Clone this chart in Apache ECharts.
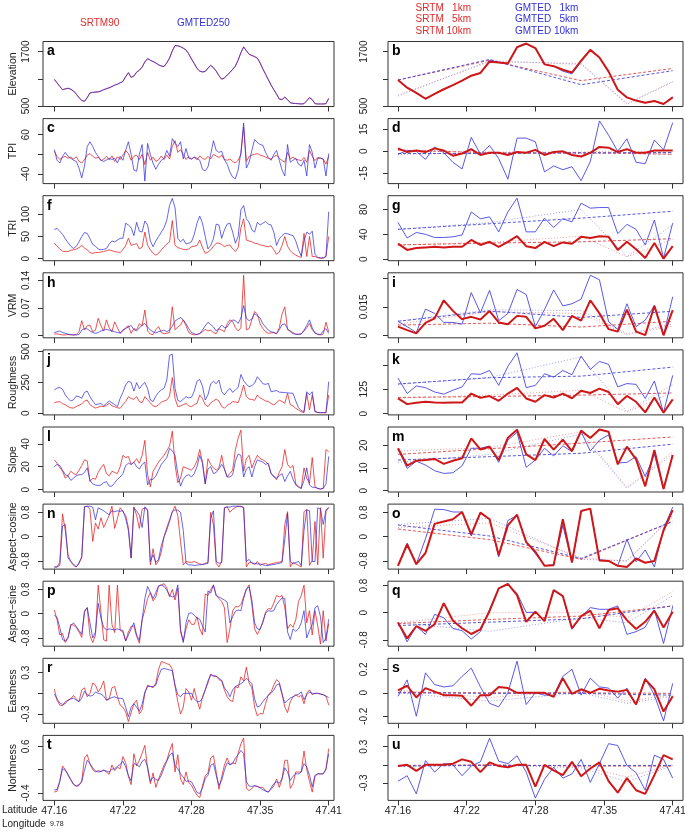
<!DOCTYPE html>
<html><head><meta charset="utf-8">
<script src="https://cdn.jsdelivr.net/npm/echarts@6.0.0/dist/echarts.min.js"></script>
<style>html,body{margin:0;padding:0;background:#fff}#c{width:685px;height:833px}</style>
</head><body><div id="c"></div>
<script>
// ---------- tick labels ----------
const latLabels = ['47.16','47.22','47.28','47.35','47.41'];
const latTicks = [0, 0.25, 0.5, 0.75, 1];
const pos5 = [0, 0.3333, 0.6667, 1];
const pos10 = [0, 0.3333, 0.6667, 0.8333, 1];

// ---------- left column (SRTM90 / GMTED250) ----------
const elevSRTM90 = [1090,1010,930,860,880,895,870,830,760,680,620,600,680,790,800,805,810,830,860,880,900,930,960,980,1010,1040,1150,1230,1130,1160,1250,1290,1360,1480,1550,1510,1480,1450,1410,1380,1370,1450,1560,1720,1840,1830,1810,1780,1740,1650,1540,1440,1330,1270,1250,1260,1340,1400,1350,1270,1170,1090,1120,1180,1240,1310,1380,1520,1680,1810,1720,1640,1620,1590,1560,1450,1320,1200,1080,960,860,760,650,640,700,640,570,560,555,550,545,550,620,690,640,550,545,545,545,550,670];
const elevGMTED250 = [1085,1010,935,860,875,890,870,835,765,690,625,605,690,790,800,810,815,830,860,885,905,930,960,985,1015,1045,1145,1240,1135,1165,1245,1290,1360,1470,1545,1510,1485,1450,1410,1385,1375,1455,1560,1715,1830,1830,1810,1775,1735,1650,1535,1440,1330,1270,1255,1265,1330,1395,1345,1270,1170,1095,1120,1185,1240,1310,1380,1515,1675,1800,1720,1645,1615,1590,1555,1450,1320,1200,1085,965,860,765,655,645,690,640,575,560,555,550,545,552,615,680,640,552,545,545,545,552,665];
const tpiSRTM90 = [18,5,-3,2,5,0,3,-2,4,-8,-12,-3,8,12,5,0,3,-6,-2,5,-4,6,-8,4,-3,8,20,12,-5,5,8,-3,10,-16,15,-5,3,-8,-4,6,-3,8,-2,30,45,15,22,10,-3,5,-2,3,-4,6,0,-3,5,-2,10,6,2,8,-3,-5,-2,-8,-12,-5,10,80,-8,5,8,10,12,8,6,3,0,-2,4,8,0,-6,-10,15,-2,3,-2,-4,-6,2,-10,20,5,-6,2,1,-2,-15,5];
const tpiGMTED250 = [22,-5,-12,5,15,5,0,-5,-8,-25,-50,-20,30,42,30,15,5,-5,-8,-4,0,-3,0,-12,5,-5,20,42,10,-30,-33,10,35,-58,38,10,-13,-28,-15,-5,0,20,5,50,38,30,42,-2,25,0,-2,3,0,-5,-28,-32,-22,10,45,20,15,18,-4,-15,-35,-48,-52,-30,15,90,-25,-10,20,48,40,35,33,15,2,-5,10,20,-5,-30,-45,35,-10,-5,0,-15,-20,-5,-45,35,15,-25,0,0,-2,-45,12];
const triSRTM90 = [35,28,22,17,16,16,19,20,22,25,30,24,20,14,12,14,14,15,16,18,20,18,16,15,14,20,30,46,30,32,34,22,26,60,30,20,12,8,12,20,27,33,38,86,30,25,23,21,20,22,27,28,30,42,25,12,15,20,28,35,35,32,27,30,31,22,16,25,70,90,42,40,38,35,34,31,30,28,27,29,20,10,15,30,50,28,18,12,8,5,3,57,5,50,5,5,2,1,1,5,50];
const triGMTED250 = [66,68,62,55,45,36,28,23,28,38,50,59,57,45,32,28,22,20,21,23,33,40,38,42,46,46,80,76,70,52,82,62,60,85,76,40,27,40,50,60,70,87,120,136,115,46,38,44,33,35,38,55,80,96,80,50,22,30,45,78,76,46,65,78,80,60,35,50,110,120,90,82,65,60,82,76,80,84,78,76,60,30,45,52,57,56,54,52,40,20,6,40,60,55,62,10,3,2,2,5,106];
const vrmSRTM90 = [0.004,0.005,0.003,0.002,0.002,0.003,0.002,0.002,0.003,0.010,0.038,0.015,0.025,0.027,0.010,0.014,0.044,0.025,0.012,0.040,0.020,0.010,0.035,0.020,0.006,0.012,0.020,0.025,0.006,0.018,0.015,0.030,0.025,0.065,0.012,0.004,0.003,0.015,0.023,0.008,0.005,0.006,0.008,0.073,0.015,0.022,0.027,0.040,0.025,0.008,0.004,0.002,0.003,0.005,0.010,0.016,0.012,0.014,0.008,0.005,0.018,0.014,0.010,0.030,0.040,0.036,0.020,0.012,0.020,0.153,0.015,0.018,0.040,0.061,0.055,0.030,0.018,0.010,0.006,0.007,0.008,0.005,0.020,0.055,0.073,0.015,0.012,0.008,0.003,0.004,0.005,0.012,0.020,0.031,0.015,0.008,0.003,0.002,0.004,0.034,0.010];
const vrmGMTED250 = [0.008,0.010,0.012,0.008,0.006,0.004,0.003,0.002,0.002,0.003,0.014,0.018,0.017,0.012,0.008,0.006,0.008,0.012,0.014,0.016,0.014,0.012,0.010,0.008,0.007,0.015,0.018,0.022,0.026,0.015,0.012,0.020,0.026,0.031,0.022,0.014,0.010,0.007,0.010,0.012,0.014,0.010,0.014,0.024,0.037,0.042,0.046,0.040,0.030,0.018,0.008,0.005,0.003,0.006,0.014,0.025,0.034,0.028,0.022,0.012,0.018,0.027,0.020,0.022,0.033,0.040,0.038,0.031,0.045,0.076,0.044,0.038,0.042,0.056,0.050,0.045,0.030,0.022,0.014,0.010,0.008,0.005,0.015,0.028,0.030,0.018,0.010,0.005,0.004,0.003,0.004,0.014,0.026,0.040,0.020,0.006,0.004,0.003,0.012,0.018,0.006];
const roughSRTM90 = [86,92,95,78,70,54,45,42,55,65,76,100,108,70,55,42,50,58,54,65,81,60,54,45,41,70,95,135,120,113,135,95,86,135,110,85,60,54,70,90,100,108,140,290,120,54,60,70,80,60,54,70,81,149,120,70,54,85,100,115,100,55,41,65,76,95,92,86,150,230,135,115,113,105,149,125,113,100,95,80,68,85,108,95,81,162,70,60,40,27,12,5,162,27,149,14,6,5,5,5,149];
const roughGMTED250 = [189,205,210,195,150,120,100,110,140,135,122,170,180,135,100,70,75,80,60,80,100,85,70,55,122,170,230,260,250,180,249,200,230,250,200,108,95,140,170,190,203,270,470,480,200,105,95,115,135,125,130,180,260,275,220,108,150,240,260,240,270,176,150,180,203,170,190,210,315,265,235,216,225,245,297,270,240,235,243,175,180,185,172,170,168,166,164,162,100,45,22,14,175,149,175,14,8,5,5,5,257];
const slopeSRTM90 = [26,23,19,16,10,12,16,14,13,17,21,26,25,7,10,9,15,19,22,14,12,16,15,14,20,30,28,29,22,24,27,23,30,43,13,2.5,16,20,24,27,30,34,38,51,22,6,10,20,19,18,17,20,25,35,24,5,27,22,19,17,19,30,18,11,14,17,35,45,52,16,27,30,19,25,30,27,26,24.5,22,14,12,8.5,15,20,35,22,19,21,5,3,1,19,10,5.5,28,2.5,1,0.5,1,35,33];
const slopeGMTED250 = [20,22,21,17,13,12,8,10,12,13,13,15,19,8,5,4,3.5,4,6,7,3,3,6,9,11,14,21,23,22,24,20,18,22,24,4,9,9,12,17,22,25,28,36,34,30,14,3,9,12,13,11,14,20,30,23,5,18,20,14,15,18,22,18,11,11,13,25,31,30,11,18,20,11,20,26,25,24,22,23,14,11,10,12,14,7,12,16,9,4,2,1,8,19,4,2,2,1,0.5,1,5,29];
const acosSRTM90 = [-1,-1,-0.85,0.75,0.2,-0.6,-0.82,-0.95,-1,-0.9,-0.65,0.98,1,0.9,-0.16,0.45,0.25,0.62,0.3,0.5,0.7,1,0.27,0.6,0.95,0.82,0.7,0.3,-0.71,0.98,0.7,0.27,0.9,0.95,0.85,-0.93,-0.4,-0.93,-0.8,-0.5,0,0.3,0.55,0.82,1,0.7,-0.16,-0.93,-0.82,-0.84,-0.85,-0.82,-0.86,-0.9,-0.92,-0.88,-0.85,0.8,0.38,-0.88,-1,-0.82,0.95,0.98,0.8,0.9,0.96,1,0.98,0.97,-1,-0.85,-0.85,-0.93,-0.82,-0.95,-0.9,-0.88,-0.93,-0.9,-0.88,-0.85,-0.84,-0.82,0.4,0.82,-1,-0.85,-0.9,-0.95,-1,0.82,0.9,-0.95,-0.78,0.5,-0.93,0.95,-0.71,0.82,0.96];
const acosGMTED250 = [-1,-1,-0.95,0.35,0.4,-0.7,-0.82,-0.9,-1,-0.85,-0.7,0.98,1,1,0.97,0.55,0.95,0.9,0.85,0.78,0.72,0.85,0.82,0.85,0.83,0.86,0.6,0.2,-0.7,0.95,0.85,0.7,0.3,0.98,0.9,-0.82,-0.6,-0.85,-0.75,-0.3,0,0.22,0.5,0.82,0.88,0.87,0.8,0.2,-0.88,-0.93,-0.93,-0.95,-0.94,-0.93,-0.92,-0.9,-0.88,0.6,0.85,-0.82,-0.88,-0.85,0.95,0.98,0.97,1,1,1,1,0.95,-0.82,-0.75,-0.88,-0.88,-0.9,-0.9,-0.93,-0.95,-0.95,-0.93,-0.92,-0.9,-0.88,-0.85,-0.1,0.77,-0.82,-0.9,-0.85,-0.82,-0.95,0.2,0.88,0.85,-0.82,-0.82,0.95,0.9,0.4,0.88,0.96];
const asinSRTM90 = [0.12,-0.2,-0.7,-0.65,-0.95,-0.8,-0.35,-0.38,-0.45,-0.6,-0.78,0.1,0.2,-0.72,-0.95,-0.7,0.94,0.05,-0.86,-0.9,0.94,-0.35,-0.62,0.94,-0.55,-0.6,-0.9,-0.6,-0.42,-0.4,-0.75,-0.97,-0.2,0.12,0.5,0.7,0.42,0.55,0.9,0.95,0.99,0.85,0.55,0.8,0.45,0.85,-0.6,-0.9,-0.5,-0.2,-0.35,-0.35,-0.1,-0.5,-0.7,0.65,0.6,0.8,0.94,0.6,0.5,0.4,0.2,-0.95,-0.5,0.1,0.23,0.23,0.3,0.55,0.8,0.95,0.3,-0.5,-0.68,-0.5,-0.3,0.05,0.17,0.15,0.35,0.6,0.55,0.6,0.2,-0.5,-0.35,-0.45,-0.2,0.4,0.6,0.94,-0.3,0.1,-0.7,0.1,-0.4,-1,0.1,-0.9,-0.32];
const asinGMTED250 = [-0.05,-0.12,-0.45,-0.85,-0.9,-0.78,-0.4,-0.3,-0.42,-0.55,-0.68,0.05,0.2,-0.3,-0.8,-0.6,0.34,-0.15,-0.45,-0.53,-0.5,-0.52,-0.53,-0.5,-0.53,-0.55,-0.9,-0.7,-0.5,-0.3,-0.7,-0.88,-0.2,0.5,0.9,0.7,0.5,0.7,0.92,0.94,0.9,0.77,0.6,0.55,0.58,0.95,-0.5,-0.95,-0.3,0.01,0.03,-0.05,-0.15,-0.18,-0.4,-0.6,0.75,0.68,0.95,0.6,0.55,0.5,0.45,0.38,-0.3,-0.1,0.08,0.12,0.1,0.5,0.82,0.88,0.45,-0.3,-0.5,-0.52,-0.25,0.02,0.1,0.08,0.1,0.3,0.42,0.52,0.5,-0.6,-0.85,-0.5,-0.58,-0.5,-0.3,0.1,-0.8,-0.55,-0.35,0.2,0.26,-0.1,-0.95,-0.8,-0.18];
const eastSRTM90 = [0.06,-0.1,-0.17,-0.18,-0.12,-0.1,-0.08,-0.03,-0.08,-0.12,0.05,0.08,-0.05,0,0.15,0.12,0.02,0.08,0.18,-0.1,-0.08,0.08,0.1,-0.05,-0.17,-0.2,-0.27,-0.41,-0.28,-0.15,-0.1,-0.3,-0.24,0,0.12,0.1,0.08,0.15,0.35,0.46,0.45,0.43,0.42,0.35,0.1,-0.12,-0.3,-0.2,0.07,0.02,-0.1,0.07,-0.1,-0.23,-0.05,0.05,0.15,0.28,0.24,0.25,0.2,0.18,0.05,-0.05,-0.1,-0.12,0.1,0.08,0.24,0.18,0.38,0.15,0.08,-0.2,-0.33,-0.29,-0.3,-0.15,-0.02,0.02,0.12,0.2,0.16,0,-0.2,-0.28,-0.12,-0.05,-0.02,-0.05,-0.03,-0.15,0,0.05,-0.02,0,0,-0.01,-0.02,-0.04,-0.17];
const eastGMTED250 = [-0.01,-0.08,-0.14,-0.16,-0.15,-0.1,-0.08,-0.07,-0.1,-0.12,-0.07,0.03,-0.02,-0.04,-0.03,0.02,0,-0.01,-0.04,-0.1,-0.08,-0.06,-0.05,-0.07,-0.07,-0.08,-0.2,-0.34,-0.2,-0.15,-0.2,-0.26,-0.16,0.02,0.1,0.1,0.1,0.12,0.25,0.35,0.36,0.35,0.34,0.33,0.12,-0.02,-0.05,0,0,0,0,-0.08,-0.12,-0.12,-0.07,0.05,0.18,0.27,0.26,0.25,0.22,0.19,0.08,0.03,-0.05,0.05,0.1,0.12,0.14,0.17,0.22,0.18,0.14,-0.08,-0.2,-0.18,-0.12,-0.07,-0.03,0,0.05,0.12,0.14,-0.02,-0.14,-0.1,-0.07,-0.05,-0.03,-0.01,0.02,-0.09,-0.02,0.02,0,0,0,-0.01,-0.02,-0.04,-0.06];
const northSRTM90 = [-0.38,-0.36,-0.15,0.18,0.1,-0.02,-0.12,-0.22,-0.26,-0.24,-0.14,0.35,0.42,0.22,0.1,0.05,0.08,0.06,0.09,0.05,0,0.2,0.08,0.15,0.12,0.38,0.25,-0.05,-0.22,0.44,0.18,0.3,0.45,0.62,0.12,-0.2,0.03,-0.28,-0.1,0.05,0.2,0.3,0.5,0.66,0.05,0.42,-0.1,-0.22,0.05,-0.18,-0.23,-0.35,-0.45,-0.5,-0.25,-0.03,0.03,0.35,0.4,0.05,-0.32,-0.05,0.2,0.35,0.2,0.25,0.22,0.45,0.65,0.78,-0.3,-0.35,-0.3,-0.25,-0.26,-0.28,-0.28,-0.35,-0.38,-0.32,-0.25,-0.1,-0.28,-0.1,0.3,0.3,-0.3,-0.2,0.05,0.05,0.05,0.5,0.1,-0.15,-0.38,-0.05,0.01,0.01,0.01,0.1,0.55];
const northGMTED250 = [-0.34,-0.32,-0.15,0.12,0.09,0,-0.11,-0.21,-0.25,-0.22,-0.16,0.09,0.3,0.23,0.14,0.07,0.05,0.06,0.09,0.07,0.05,0.11,0.12,0.17,0.21,0.28,0.16,-0.02,-0.14,0.23,0.21,0.16,0.28,0.32,0.16,-0.15,-0.06,-0.11,-0.13,-0.02,0.14,0.28,0.41,0.46,0.19,0.12,0.01,-0.06,-0.15,-0.14,-0.16,-0.27,-0.39,-0.41,-0.29,-0.09,-0.02,0.19,0.23,-0.02,-0.24,-0.13,0.09,0.25,0.21,0.23,0.35,0.42,0.51,0.44,-0.16,-0.25,-0.26,-0.24,-0.26,-0.29,-0.33,-0.36,-0.38,-0.29,-0.2,-0.16,-0.19,-0.09,0.14,0.05,-0.13,-0.04,0.01,0.01,0.05,0.23,0.16,-0.02,-0.27,-0.02,0.01,0.01,0.01,0.12,0.44];

// ---------- right column (1 km / 5 km / 10 km) ----------
const elevSRTM1 = [1074,905,790,660,770,870,960,1060,1170,1230,1480,1460,1440,1800,1880,1780,1420,1380,1300,1240,1500,1740,1570,1260,860,690,620,570,610,545,690];
const elevGMTED1 = [1074,905,790,660,770,870,960,1060,1170,1230,1510,1460,1440,1790,1870,1780,1420,1380,1270,1210,1480,1740,1570,1260,860,690,620,570,610,545,700];
const elevSRTM5 = [1074,1510,1060,1330];
const elevGMTED5 = [1074,1530,970,1280];
const elevSRTM10 = [740,1480,1440,560,1040];
const elevGMTED10 = [720,1500,1420,540,1030];
const tpiSRTM1 = [2,-0.5,0.5,-0.5,2,0.5,-3,-1.5,1.5,-2.5,-1,-1,-2.5,-0.5,-1,1,-2.5,-0.5,0,-2.5,-3.5,-1,3,2.5,-0.5,1.5,-1,-1,0.5,0.5,0.5];
const tpiGMTED1 = [-2,0.5,0,-5.5,3,-1,-7.5,-12,9.5,-2,4,-5,-19,9,9,6.5,-14,-10,-12.5,-10.5,-20,-7,20.7,11,0,8.5,-7.5,-8.4,7.7,1,19.5];
const tpiSRTM5 = [0.8,-1,-1,-2];
const tpiGMTED5 = [-1.5,-1.5,-1,-0.8];
const tpiSRTM10 = [1,-0.5,-0.5,0.5,-1];
const tpiGMTED10 = [-2,-1,-1.5,-1,-2];
const triSRTM1 = [25,15,18,19,20,19,20,20,31,23,28,20,28,37,21,18,28,21,27,25,36,34,37,36,15,28,16,2,26,1,21];
const triGMTED1 = [59,34,43,40,35,35,36,39,76,65,68,44,76,98,44,44,66,51,65,60,90,82,83,83,41,56,48,23,63,2,58];
const triSRTM5 = [23,26,28,33];
const triGMTED5 = [48,57,66,77];
const triSRTM10 = [23,27,37,4,32];
const triGMTED10 = [48,59,80,4,55];
const vrmSRTM1 = [0.0047,0.0029,0.0012,0.0067,0.009,0.0184,0.0129,0.0086,0.0098,0.0084,0.0128,0.0069,0.0059,0.0103,0.0098,0.0038,0.0052,0.0088,0.0029,0.0103,0.0078,0.0184,0.0116,0.0034,0.0021,0.0136,0.0021,0.0003,0.0155,0.0002,0.0133];
const vrmGMTED1 = [0.0074,0.0047,0.0016,0.0138,0.0116,0.0069,0.0069,0.006,0.0224,0.0119,0.0236,0.0078,0.0116,0.024,0.0214,0.0047,0.0136,0.0238,0.0155,0.0166,0.019,0.0314,0.0291,0.0072,0.0033,0.0166,0.0047,0.0081,0.0157,0.0003,0.0202];
const vrmSRTM5 = [0.0055,0.0065,0.0045,0.0075];
const vrmGMTED5 = [0.0075,0.0128,0.0095,0.0127];
const vrmSRTM10 = [0.006,0.0125,0.0115,0.0005,0.005];
const vrmGMTED10 = [0.0075,0.0135,0.013,0.001,0.006];
const roughSRTM1 = [78,49,56,61,57,56,57,57,103,81,90,66,103,132,78,61,95,83,103,79,117,106,128,111,49,91,61,7,83,5,73];
const roughGMTED1 = [182,103,142,133,111,100,120,137,204,201,221,145,242,311,133,145,204,187,221,199,294,226,267,252,137,154,150,78,167,5,196];
const roughSRTM5 = [83,88,95,106];
const roughGMTED5 = [152,184,192,238];
const roughSRTM10 = [80,95,120,8,110];
const roughGMTED10 = [150,185,290,10,150];
const slopeSRTM1 = [18.7,11,13.2,13.5,14,11.8,13.2,14.3,23.1,18.2,19.4,13.5,23.4,26.9,16,13.5,22.8,18.1,22.5,17.5,26.5,23.2,27,26,11.6,19.4,13.8,1.9,17.9,0.7,15.7];
const slopeGMTED1 = [18.4,9.8,13,11.3,8.8,7.6,7.9,11,18.7,18.7,19.7,12.5,22.3,25.7,10.3,13.5,18.7,15.3,19.8,17.2,26,17.5,22.3,24.6,12.2,12.5,15,6.2,16,0.7,15.7];
const slopeSRTM5 = [16,18.5,21,23.7];
const slopeGMTED5 = [13.5,15,16.5,20.5];
const slopeSRTM10 = [17.5,19,26,1.5,17];
const slopeGMTED10 = [12.5,16,25,1,16];
const acosSRTM1 = [-0.96,-0.26,-0.91,-0.54,0.42,0.5,0.57,0.81,0.07,0.79,0.57,-0.61,0.37,0.72,-0.18,-0.5,-0.96,-0.94,0.57,-0.85,0.84,0.92,-0.79,-0.8,-0.96,-1,-0.72,-0.86,-0.8,0.2,0.87];
const acosGMTED1 = [-0.96,-0.21,-0.91,-0.07,0.9,0.89,0.81,0.81,0.02,0.78,0.57,-0.67,0.53,0.7,-0.18,-0.56,-0.96,-0.92,0.37,-0.85,0.84,0.92,-0.76,-0.8,-0.96,-0.09,-0.83,-0.44,-1,0.26,0.97];
const acosSRTM5 = [0.25,-0.1,-0.75,0.5];
const acosGMTED5 = [0.38,0.02,-0.72,0.5];
const acosSRTM10 = [0.3,0.45,-0.7,-0.8,0.65];
const acosGMTED10 = [0.4,0.6,-0.75,-0.8,0.7];
const asinSRTM1 = [-0.29,-0.76,-0.4,-0.54,-0.34,0.28,-0.24,-0.46,-0.63,-0.49,0.05,0.72,0.85,0.52,-0.27,0.03,-0.25,0.67,0.49,-0.46,-0.1,0.06,-0.46,0.08,0.13,-0.22,-0.48,-0.27,0.06,-0.44,0.03];
const asinGMTED1 = [-0.29,-0.86,-0.4,-0.64,-0.05,-0.15,-0.47,-0.53,-0.78,-0.56,0.1,0.72,0.82,0.57,0.01,0.01,-0.22,0.65,0.49,-0.49,-0.12,0.15,0.1,0.1,0.2,-0.64,-0.56,-0.43,0.08,-0.91,0.18];
const asinSRTM5 = [-0.32,-0.2,-0.1,0.2];
const asinGMTED5 = [-0.38,-0.28,-0.18,0.2];
const asinSRTM10 = [-0.3,0.0,0.0,-0.15,0.62];
const asinGMTED10 = [-0.3,-0.55,-0.15,-0.3,0.5];
const eastSRTM1 = [0.02,0.06,-0.04,0.04,0.01,-0.02,-0.02,-0.025,-0.11,-0.02,-0.02,0.05,0.04,0,0,0,0,-0.035,0.125,-0.01,0.03,0,0.035,0.02,0.01,0.025,-0.1,0.115,0.03,-0.16,-0.03];
const eastGMTED1 = [-0.03,0.11,-0.2,0.17,0.07,0.05,0.06,0.14,0.21,0.05,-0.09,-0.12,0,0.27,-0.1,0,-0.02,-0.02,0.14,0.2,-0.02,0.125,0.05,0.04,-0.045,0.04,-0.1,0.125,-0.02,-0.24,0.08];
const eastSRTM5 = [0.005,0,0,-0.005];
const eastGMTED5 = [0,-0.005,-0.005,-0.02];
const eastSRTM10 = [0.02,-0.04,0.02,-0.07,-0.02];
const eastGMTED10 = [0,-0.07,0,-0.09,-0.03];
const northSRTM1 = [-0.02,0,-0.1,0,0,0,0.02,0.09,0.05,-0.12,0.04,-0.02,-0.04,0,0,-0.36,0,-0.09,-0.17,0.05,-0.19,-0.06,0.04,-0.27,-0.46,-0.22,-0.42,-0.48,-0.17,0.16,0.09];
const northGMTED1 = [-0.27,-0.18,-0.48,0.07,-0.12,0.02,0,-0.18,-0.02,0.05,0.44,0.06,0.02,0.15,-0.12,-0.55,-0.24,-0.04,-0.22,-0.15,0.09,-0.29,0.02,0.35,0.32,-0.01,-0.13,-0.42,0.16,0.09,-0.22];
const northSRTM5 = [-0.01,0,-0.02,-0.02];
const northGMTED5 = [-0.02,-0.01,-0.01,-0.01];
const northSRTM10 = [-0.02,-0.01,-0.02,-0.2,0];
const northGMTED10 = [-0.02,0,-0.05,-0.28,-0.01];

// ---------- panel definitions ----------
const rows = [
  {name:'Elevation', letters:['a','b'], L:[elevSRTM90,elevGMTED250], R:[elevSRTM1,elevGMTED1,elevSRTM5,elevGMTED5,elevSRTM10,elevGMTED10],
   rangeL:[489,1925], ticksL:[500,1100,1700], labelsL:[500,1700], rangeR:[489,1925], ticksR:[500,1100,1700], labelsR:[500,1700]},
  {name:'TPI', letters:['c','d'], L:[tpiSRTM90,tpiGMTED250], R:[tpiSRTM1,tpiGMTED1,tpiSRTM5,tpiGMTED5,tpiSRTM10,tpiGMTED10],
   rangeL:[-64.4,101], ticksL:[-40,10,60], labelsL:[-40,60], rangeR:[-22,22.3], ticksR:[-15,0,15], labelsR:[-15,0,15]},
  {name:'TRI', letters:['f','g'], L:[triSRTM90,triGMTED250], R:[triSRTM1,triGMTED1,triSRTM5,triGMTED5,triSRTM10,triGMTED10],
   rangeL:[-4.5,142], ticksL:[0,50,100], labelsL:[0,50,100], rangeR:[-2.3,102], ticksR:[0,40,80], labelsR:[0,40,80]},
  {name:'VRM', letters:['h','i'], L:[vrmSRTM90,vrmGMTED250], R:[vrmSRTM1,vrmGMTED1,vrmSRTM5,vrmGMTED5,vrmSRTM10,vrmGMTED10],
   rangeL:[-0.0053,0.159], ticksL:[0,0.07,0.14], labelsL:[0,0.07,0.14], rangeR:[-0.0011,0.0327], ticksR:[0,0.015,0.03], labelsR:[0,0.015]},
  {name:'Roughness', letters:['j','k'], L:[roughSRTM90,roughGMTED250], R:[roughSRTM1,roughGMTED1,roughSRTM5,roughGMTED5,roughSRTM10,roughGMTED10],
   rangeL:[-13,515], ticksL:[0,250,500], labelsL:[0,250,500], rangeR:[-6,326], ticksR:[0,125,250], labelsR:[0,125]},
  {name:'Slope', letters:['l','m'], L:[slopeSRTM90,slopeGMTED250], R:[slopeSRTM1,slopeGMTED1,slopeSRTM5,slopeGMTED5,slopeSRTM10,slopeGMTED10],
   rangeL:[-2.1,54.7], ticksL:[0,20,40], labelsL:[0,20,40], rangeR:[-0.6,28.1], ticksR:[0,10,20], labelsR:[0,10,20]},
  {name:'Aspect\u2212cosine', letters:['n','o'], L:[acosSRTM90,acosGMTED250], R:[acosSRTM1,acosGMTED1,acosSRTM5,acosGMTED5,acosSRTM10,acosGMTED10],
   rangeL:[-1.07,1.07], ticksL:[-0.8,0,0.8], labelsL:[-0.8,0,0.8], rangeR:[-1.07,1.07], ticksR:[-0.8,0,0.8], labelsR:[-0.8,0,0.8]},
  {name:'Aspect\u2212sine', letters:['p','q'], L:[asinSRTM90,asinGMTED250], R:[asinSRTM1,asinGMTED1,asinSRTM5,asinGMTED5,asinSRTM10,asinGMTED10],
   rangeL:[-1.07,1.07], ticksL:[-0.8,0,0.8], labelsL:[-0.8,0,0.8], rangeR:[-0.99,0.93], ticksR:[-0.8,0,0.8], labelsR:[-0.8,0,0.8]},
  {name:'Eastness', letters:['r','s'], L:[eastSRTM90,eastGMTED250], R:[eastSRTM1,eastGMTED1,eastSRTM5,eastGMTED5,eastSRTM10,eastGMTED10],
   rangeL:[-0.435,0.509], ticksL:[-0.3,0,0.3], labelsL:[-0.3,0.3], rangeR:[-0.26,0.294], ticksR:[-0.2,0,0.2], labelsR:[-0.2,0,0.2]},
  {name:'Northness', letters:['t','u'], L:[northSRTM90,northGMTED250], R:[northSRTM1,northGMTED1,northSRTM5,northGMTED5,northSRTM10,northGMTED10],
   rangeL:[-0.558,0.833], ticksL:[-0.4,0.1,0.6], labelsL:[-0.4,0.6], rangeR:[-0.588,0.487], ticksR:[-0.3,0,0.3], labelsR:[-0.3,0.3]}
];

// ---------- layout & styles ----------
const FONT = "'Liberation Sans', Arial, Helvetica, sans-serif";
const TOP0 = 41.5, ROWSTEP = 77.1, H = 65;
const SIDES = [
  {x:43, w:291, min:-0.0412, max:1.0193, labelMargin:12},
  {x:388, w:295, min:-0.0364, max:1.0375, labelMargin:19}
];
const RED = '#e02a2a', BLUE = '#3030dd';
const leftStyles = [
  {color:'rgba(232,40,40,0.8)', width:1, type:'solid'},
  {color:'rgba(45,45,225,0.72)', width:1, type:'solid'}
];
// order of right series in arrays: SRTM1, GMTED1, SRTM5, GMTED5, SRTM10, GMTED10
const rightStyles = [
  {color:'#cf1717', width:2, type:'solid', z:6},
  {color:'rgba(60,60,230,0.85)', width:1, type:'solid', z:5},
  {color:'rgba(226,70,70,0.9)', width:1, type:[3,2], z:4},
  {color:'rgba(70,70,215,0.9)', width:1, type:[3,2], z:4},
  {color:'rgba(240,150,150,0.95)', width:1, type:[1,2], z:3},
  {color:'rgba(150,150,235,0.95)', width:1, type:[1,2], z:3}
];

function seqXY(arr){ return arr.map((v,i)=>[i/(arr.length-1), v]); }
function posXY(pos, arr){ return arr.map((v,i)=>[pos[i], v]); }
function latLabel(v){
  const i = latTicks.findIndex(t => Math.abs(t - v) < 1e-6);
  return i >= 0 ? latLabels[i] : '';
}

const grids=[], xAxes=[], yAxes=[], series=[], graphics=[];
rows.forEach((r, ri) => {
  const top = TOP0 + ROWSTEP*ri;
  const last = ri === rows.length-1;
  SIDES.forEach((side, si) => {
    const gi = grids.length;
    grids.push({left: side.x, top: top, width: side.w, height: H, show: true,
      borderColor: '#333', borderWidth: 1, backgroundColor: 'transparent',
      containLabel: false, outerBoundsMode: 'none'});
    xAxes.push({gridIndex: gi, type: 'value', min: side.min, max: side.max, position: 'bottom',
      axisLine: {show: false, onZero: false}, splitLine: {show: false},
      axisTick: {show: true, inside: false, length: 5, customValues: latTicks, lineStyle: {color: '#333', width: 1}},
      axisLabel: {show: last, customValues: latTicks, margin: 5, fontSize: 10.5, color: '#222', fontFamily: FONT, formatter: latLabel}});
    const rng = si === 0 ? r.rangeL : r.rangeR;
    yAxes.push({gridIndex: gi, type: 'value', min: rng[0], max: rng[1], position: 'left',
      axisLine: {show: false, onZero: false}, splitLine: {show: false},
      axisTick: {show: true, inside: false, length: 5, customValues: si === 0 ? r.ticksL : r.ticksR, lineStyle: {color: '#333', width: 1}},
      axisLabel: {customValues: si === 0 ? r.labelsL : r.labelsR, rotate: 90, margin: side.labelMargin, fontSize: 10, color: '#222', fontFamily: FONT,
        formatter: v => String(v)},
      name: si === 0 ? r.name : '', nameLocation: 'middle', nameGap: 24, nameMoveOverlap: false,
      nameTextStyle: {fontSize: 10.5, color: '#222', fontFamily: FONT}});
    if (si === 0) {
      r.L.forEach((arr, k) => {
        const st = leftStyles[k];
        series.push({type: 'line', xAxisIndex: gi, yAxisIndex: gi, data: seqXY(arr), symbol: 'none', showSymbol: false,
          silent: true, animation: false, z: 3 + k, lineStyle: {color: st.color, width: st.width, type: st.type}});
      });
    } else {
      r.R.forEach((arr, k) => {
        const st = rightStyles[k];
        const data = k < 2 ? seqXY(arr) : (k < 4 ? posXY(pos5, arr) : posXY(pos10, arr));
        series.push({type: 'line', xAxisIndex: gi, yAxisIndex: gi, data: data, symbol: 'none', showSymbol: false,
          silent: true, animation: false, z: st.z, lineStyle: {color: st.color, width: st.width, type: st.type}});
      });
    }
    graphics.push({type: 'text', x: side.x + 4, y: top + 10, silent: true,
      style: {text: r.letters[si], font: 'bold 14px ' + FONT, fill: '#000', align: 'left', verticalAlign: 'middle', textAlign: 'left', textVerticalAlign: 'middle'}});
  });
});

// legends and side labels as text
function txt(t, x, y, color, size, align){
  graphics.push({type: 'text', x: x, y: y, silent: true,
    style: {text: t, font: size + 'px ' + FONT, fill: color, align: align || 'left', verticalAlign: 'middle', textAlign: align || 'left', textVerticalAlign: 'middle'}});
}
const legendLeft = ['SRTM90', 'GMTED250'];
const legendSRTM = ['SRTM   1km', 'SRTM   5km', 'SRTM 10km'];
const legendGMTED = ['GMTED   1km', 'GMTED   5km', 'GMTED 10km'];
txt(legendLeft[0], 80, 23, RED, 10);
txt(legendLeft[1], 177, 23, BLUE, 10);
legendSRTM.forEach((t, i) => txt(t, 471, 8 + 11.5*i, RED, 10, 'right'));
legendGMTED.forEach((t, i) => txt(t, 515, 8 + 11.5*i, BLUE, 10));
txt('Latitude', 2, 810, '#222', 10);
txt('Longitude', 2, 824, '#222', 10);
txt('9.78', 50, 824, '#222', 7);

const chart = echarts.init(document.getElementById('c'), null, {renderer: 'canvas', width: 685, height: 833});
chart.setOption({
  animation: false,
  backgroundColor: '#fff',
  textStyle: {fontFamily: FONT},
  grid: grids, xAxis: xAxes, yAxis: yAxes, series: series, graphic: graphics
});
</script>
</body></html>
